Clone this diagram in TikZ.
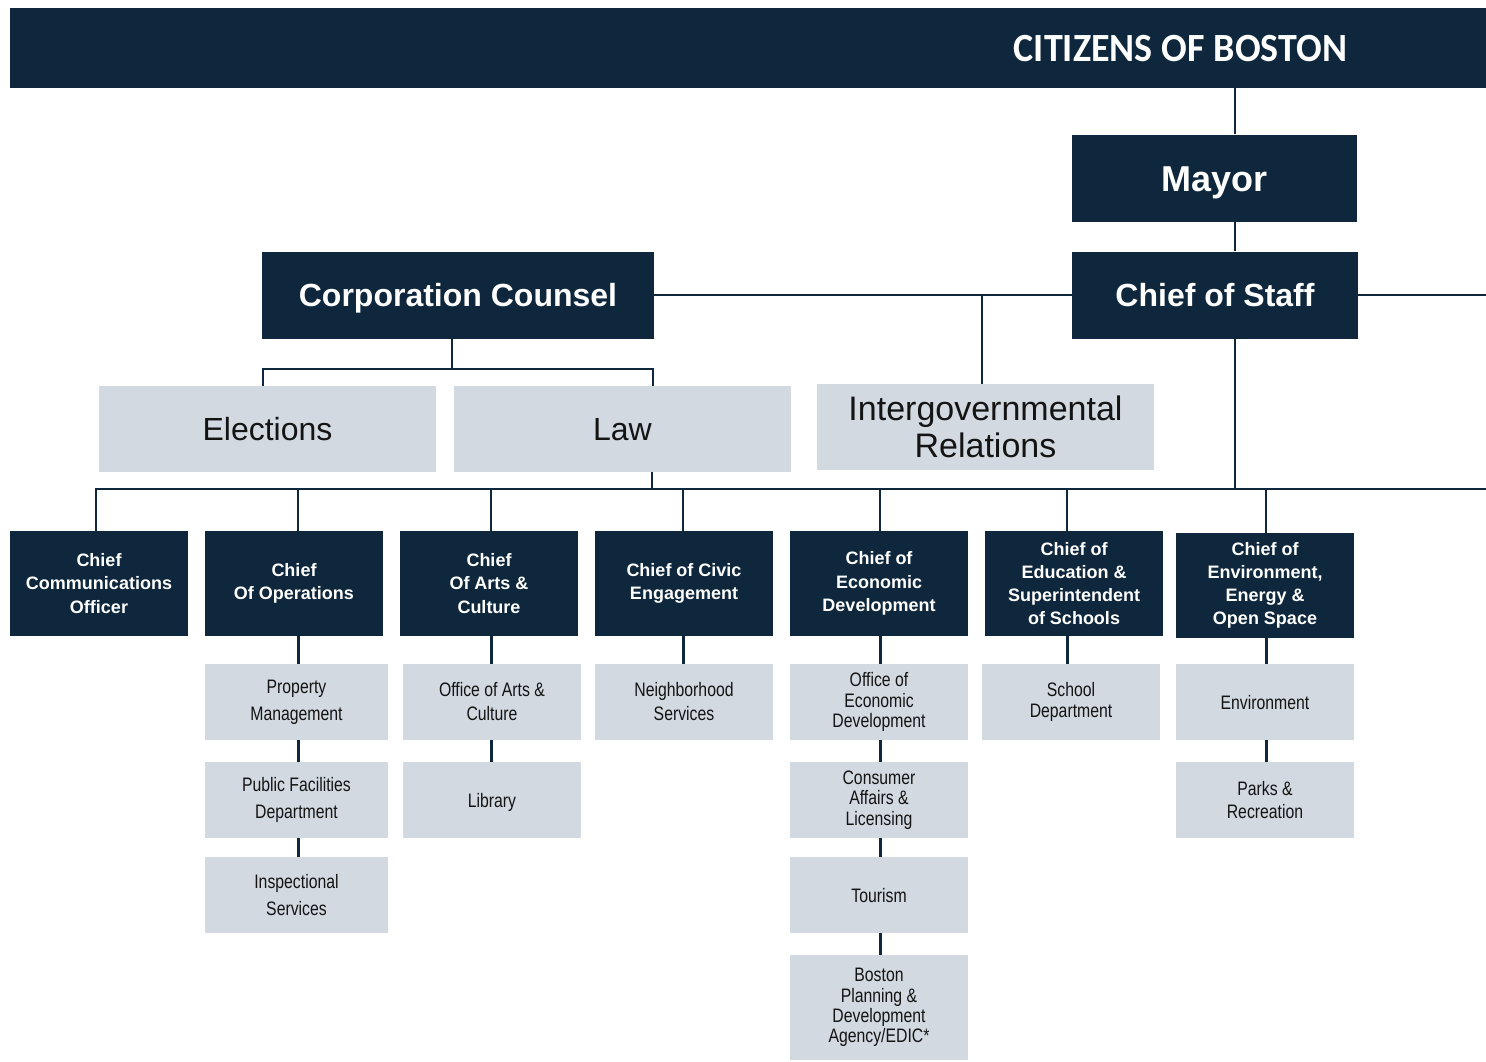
\documentclass[tikz,border=0pt]{standalone}
\usepackage{fontspec}
\setmainfont{Liberation Sans}
\newfontfamily\narrowfont[FakeStretch=0.81]{Liberation Sans}
\newfontfamily\hdrfont[FakeStretch=0.95]{Carlito}
\definecolor{navy}{HTML}{0E273C}
\definecolor{paleblue}{HTML}{D2D9E0}
\definecolor{ink}{HTML}{141414}
\begin{document}
\begin{tikzpicture}[x=1pt,y=-1pt,
  darkbox/.style={rectangle, fill=navy, text=white, inner sep=0pt, align=center, font=\bfseries\fontsize{32}{38}\selectfont},
  oneline/.style={text height=#1, text depth=0pt},
  headbox/.style={darkbox, minimum height=87pt},
  chiefbox/.style={darkbox, minimum width=178pt, minimum height=105pt, font=\bfseries\fontsize{18}{23.2}\selectfont},
  unitbox/.style={rectangle, fill=paleblue, text=ink, inner sep=0pt, align=center, minimum width=337pt, minimum height=86pt, font=\fontsize{32}{37}\selectfont},
  subbox/.style={rectangle, fill=paleblue, text=ink, inner sep=0pt, align=center, minimum width=178pt, minimum height=76pt, font=\narrowfont\fontsize{19.5}{20.3}\selectfont},
  subwide/.style={subbox, font=\narrowfont\fontsize{19.5}{26.7}\selectfont},
  submid/.style={subbox, font=\narrowfont\fontsize{19.5}{24}\selectfont},
  conn/.style={draw=navy, line width=2.2pt},
  sublink/.style={draw=navy, line width=3pt}
]
\useasboundingbox (0,0) rectangle (1486,1061);
\fill[white] (0,0) rectangle (1486,1061);

% header
\node[darkbox, minimum height=80pt, text width=1198pt, inner xsep=139pt, align=right,
      font=\hdrfont\bfseries\fontsize{40}{48}\selectfont, oneline=26pt] (hdr) at (748,48) {CITIZENS\hspace{9pt}OF\hspace{9pt}BOSTON};

% top level
\node[headbox, minimum width=285pt, font=\bfseries\fontsize{36}{42}\selectfont, oneline=26pt] (mayor) at (1214.5,178) {Mayor};
\node[headbox, minimum width=286pt, oneline=23pt] (cos) at (1215,295) {Chief of Staff};
\node[headbox, minimum width=392pt, oneline=23pt] (cc) at (458,295) {Corporation Counsel};

\node[unitbox, oneline=23pt] (elections) at (267.5,429) {Elections};
\node[unitbox, oneline=23pt] (law) at (622.5,429) {Law};
\node[unitbox, font=\fontsize{34}{37.5}\selectfont] (igr) at (985.5,427) {Intergovernmental\\Relations};

% chiefs
\node[chiefbox] (c1) at (99,583.5) {Chief\\Communications\\Officer};
\node[chiefbox] (c2) at (294,583.5) {Chief\\Of Operations};
\node[chiefbox] (c3) at (489,583.5) {Chief\\Of Arts \&\\Culture};
\node[chiefbox] (c4) at (684,583.5) {Chief of Civic\\Engagement};
\node[chiefbox] (c5) at (879,583.5) {Chief of\\Economic\\Development};
\node[chiefbox] (c6) at (1074,583.5) {Chief of\\Education \&\\Superintendent\\of Schools};
\node[chiefbox] (c7) at (1265,585.5) {Chief of\\Environment,\\Energy \&\\Open Space};

% departments
\node[subwide, minimum width=183pt] (s21) at (296.5,702) {Property\\Management};
\node[subwide, minimum width=183pt] (s22) at (296.5,800) {Public Facilities\\Department};
\node[subwide, minimum width=183pt] (s23) at (296.5,895) {Inspectional\\Services};

\node[submid] (s31) at (492,702) {Office of Arts \&\\Culture};
\node[subbox, oneline=14pt] (s32) at (492,800) {Library};

\node[submid] (s41) at (684,702) {Neighborhood\\Services};

\node[subbox] (s51) at (879,702) {Office of\\Economic\\Development};
\node[subbox] (s52) at (879,800) {Consumer\\Affairs \&\\Licensing};
\node[subbox, oneline=14pt] (s53) at (879,895) {Tourism};
\node[subbox, minimum height=105pt] (s54) at (879,1007.5) {Boston\\Planning \&\\Development\\Agency/EDIC*};

\node[subbox] (s61) at (1071,702) {School\\Department};

\node[subbox, oneline=14pt] (s71) at (1265,702) {Environment};
\node[subbox, font=\narrowfont\fontsize{19.5}{22.7}\selectfont] (s72) at (1265,800) {Parks \&\\Recreation};

% helper coordinates
\coordinate (spine) at (1235,0);
\coordinate (eastend) at (1486,295);
\coordinate (busR) at (1486,489);
\coordinate (ccbus) at (452,369);

% connectors, top
\draw[conn] (hdr.south -| spine) -- (mayor.north -| spine);
\draw[conn] (mayor.south -| spine) -- (cos.north -| spine);
\draw[conn] (cc.east) -- (cos.west);
\draw[conn] (cos.east) -- (eastend);
\draw[conn] (cos.south -| spine) -- (busR -| spine);
\draw[conn] (cc.south -| ccbus) -- (ccbus);
\draw[conn] ([xshift=-4.5pt]elections.north) -- ++(0,-17) -| ([xshift=30.5pt]law.north);
\draw[conn] ([xshift=-3.5pt]igr.north) -- ([xshift=-3.5pt]igr.north |- cos.west);
\draw[conn] ([xshift=29.5pt]law.south) -- ([xshift=29.5pt]law.south |- busR);

% bus and chiefs
\draw[conn] ([xshift=-3pt]c1.north) |- (busR);
\draw[conn] ([xshift=4pt]c2.north) -- ([xshift=4pt]c2.north |- busR);
\draw[conn] ([xshift=2pt]c3.north) -- ([xshift=2pt]c3.north |- busR);
\draw[conn] ([xshift=-1pt]c4.north) -- ([xshift=-1pt]c4.north |- busR);
\draw[conn] ([xshift=1pt]c5.north) -- ([xshift=1pt]c5.north |- busR);
\draw[conn] ([xshift=-7pt]c6.north) -- ([xshift=-7pt]c6.north |- busR);
\draw[conn] ([xshift=1pt]c7.north) -- ([xshift=1pt]c7.north |- busR);

% departments
\draw[sublink] ([xshift=4pt]c2.south) -- ([xshift=1.5pt]s21.north);
\draw[sublink] ([xshift=1.5pt]s21.south) -- ([xshift=1.5pt]s22.north);
\draw[sublink] ([xshift=1.5pt]s22.south) -- ([xshift=1.5pt]s23.north);

\draw[sublink] ([xshift=2pt]c3.south) -- ([xshift=-1pt]s31.north);
\draw[sublink] ([xshift=-1pt]s31.south) -- ([xshift=-1pt]s32.north);

\draw[sublink] ([xshift=-1pt]c4.south) -- ([xshift=-1pt]s41.north);

\draw[sublink] ([xshift=1pt]c5.south) -- ([xshift=1pt]s51.north);
\draw[sublink] ([xshift=1pt]s51.south) -- ([xshift=1pt]s52.north);
\draw[sublink] ([xshift=1pt]s52.south) -- ([xshift=1pt]s53.north);
\draw[sublink] ([xshift=1pt]s53.south) -- ([xshift=1pt]s54.north);

\draw[sublink] ([xshift=-7pt]c6.south) -- ([xshift=-4pt]s61.north);

\draw[sublink] ([xshift=1pt]c7.south) -- ([xshift=1pt]s71.north);
\draw[sublink] ([xshift=1pt]s71.south) -- ([xshift=1pt]s72.north);
\end{tikzpicture}
\end{document}
